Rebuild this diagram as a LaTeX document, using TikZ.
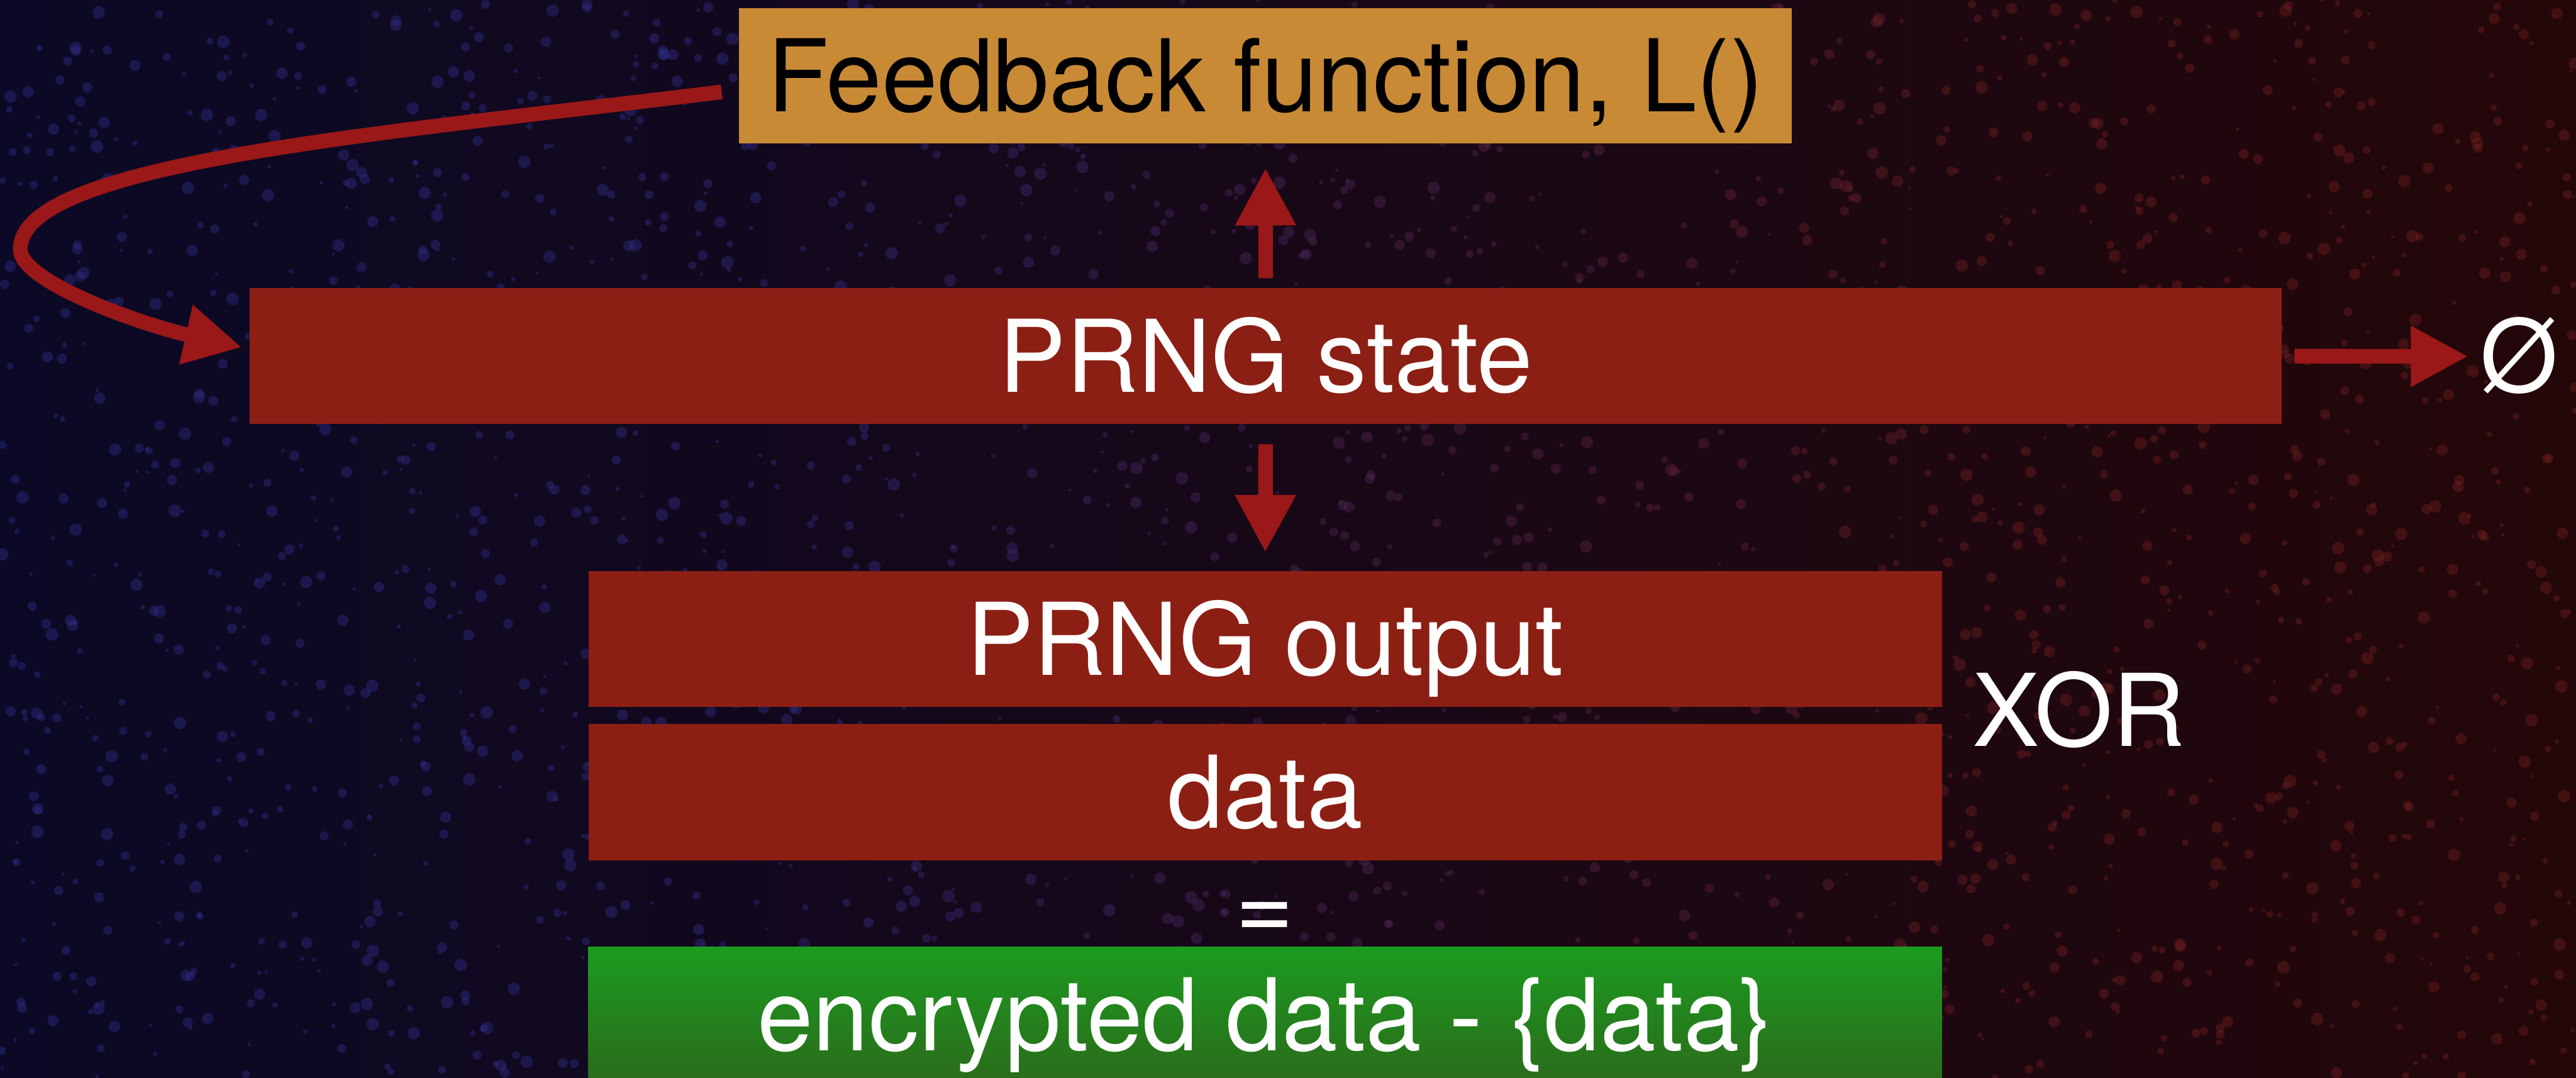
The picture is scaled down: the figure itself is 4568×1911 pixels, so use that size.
\documentclass[tikz,border=0pt]{standalone}
\usepackage{fontspec}
\setmainfont{TeX Gyre Heros}
\usetikzlibrary{arrows.meta,calc}

\definecolor{boxred}{HTML}{8C1F14}
\definecolor{arrred}{HTML}{9A1818}
\definecolor{fbtan}{HTML}{C88A35}
\definecolor{greentop}{HTML}{1B9B1F}
\definecolor{greenbot}{HTML}{2B6B1B}
\definecolor{bgleft}{HTML}{0B0926}
\definecolor{bgmid}{HTML}{060309}
\definecolor{bgright}{HTML}{240709}
\definecolor{spkblue}{HTML}{32308F}
\definecolor{spkred}{HTML}{752020}

\begin{document}
\begin{tikzpicture}[x=0.01cm, y=-0.01cm,
  bigtext/.style={font=\fontsize{50.6}{60}\selectfont, text height=36.3pt, text depth=0pt},
  bar/.style={rectangle, inner sep=0, minimum height=2.41cm, text=white, bigtext},
  label/.style={text=white, bigtext, inner sep=0},
  arr/.style={draw=arrred, line width=0.26cm, -{Triangle[length=1.02cm,width=1.01cm]}},
]
\useasboundingbox (0,0) rectangle (4568,1911);

% grungy backdrop: blue on the left, dark red on the right
\fill[left color=bgleft, middle color=bgmid, right color=bgright] (0,0) rectangle (4568,1911);
\pgfmathsetseed{42}
\foreach \i in {1,...,2600}{
  \pgfmathsetmacro\sx{random(0,4568)}
  \pgfmathsetmacro\sy{random(0,1911)}
  \pgfmathsetmacro\sr{random(3,11)*0.01}
  \pgfmathtruncatemacro\mix{min(100,max(0,(\sx-1300)/22))}
  \fill[spkred!\mix!spkblue, opacity=0.4] (\sx,\sy) circle[radius=\sr cm];
}

% boxes
\node[bar, fill=boxred, minimum width=36.01cm] (st) at (2244.5,631.5) {PRNG state};
\node[rectangle, inner sep=0, fill=fbtan, minimum width=18.66cm, minimum height=2.39cm,
      bigtext, text=black] (fb) at (2244,134.5) {Feedback function, L()};
\node[bar, fill=boxred, minimum width=23.99cm] (out) at (2243.5,1133) {PRNG output};
\node[bar, fill=boxred, minimum width=23.99cm] (dat) at (2243.5,1404.5) {data};
\node[bar, top color=greentop, bottom color=greenbot, minimum width=23.99cm] (enc)
      at (2243.5,1799.5) {encrypted data - \{data\}};

% free labels
\node[label] (eq) at (2243,1603) {=};
\node[label, anchor=west] (xor) at (3497,1259.5) {XOR};
\node[label] (nul) at (4467,632) {Ø};

% connectors
\draw[arr, shorten <=0.17cm, shorten >=0.43cm] (st.north) -- (fb.south);
\draw[arr, shorten <=0.35cm, shorten >=0.32cm] (st.south) -- (out.north);
\draw[arr, shorten <=0.22cm, shorten >=0.2cm] (st.east) -- (nul.west);

\coordinate (fbout) at ($(fb.west)+(-30,28.5)$);
\coordinate (loopL) at (36,442);
\coordinate (stin) at ($(st.west)+(-13,-15.5)$);
\draw[arr] (fbout) .. controls (650,240) and (36,290) .. (loopL)
                   .. controls (36,500) and (250,575) .. (stin);
\end{tikzpicture}
\end{document}
